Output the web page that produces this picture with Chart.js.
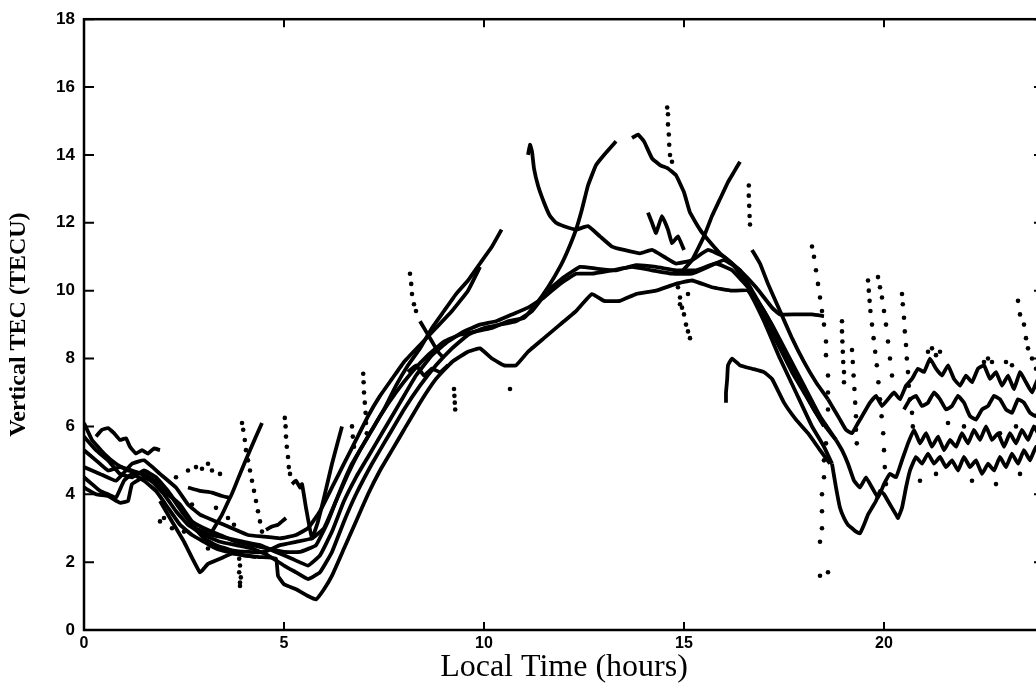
<!DOCTYPE html>
<html>
<head>
<meta charset="utf-8">
<title>Vertical TEC vs local time</title>
<script src="https://cdn.jsdelivr.net/npm/chart.js@4.4.1/dist/chart.umd.min.js"></script>
<style>
  html, body {
    margin: 0;
    padding: 0;
    background: #fff;
    overflow: hidden;
  }
  #wrap {
    width: 1036px;
    height: 692px;
    overflow: hidden;
  }
</style>
</head>
<body>
<div id="wrap"><canvas id="tec" width="1050" height="692"></canvas></div>
<script>
// tick labels
const hourTicks = [0, 5, 10, 15, 20];
const tecTicks = [0, 2, 4, 6, 8, 10, 12, 14, 16, 18];

// continuous traces, [local time (h), vertical TEC (TECU)]
const dayA = [[0,4.5],[0.2,4.3],[0.4,4.1],[0.6,4.0],[0.8,3.9],[1.0,4.4],[1.2,4.6],[1.5,4.4],[1.8,4.1],[2.1,3.6],[2.4,3.1],[2.7,2.8],[3.0,2.6],[3.3,2.4],[3.6,2.3],[4.0,2.2],[4.4,2.15],[4.8,2.1],[4.85,1.6],[5.0,1.35],[5.3,1.2],[5.6,1.0],[5.8,0.9],[6.0,1.2],[6.2,1.6],[6.5,2.4],[6.8,3.2],[7.1,4.0],[7.4,4.7],[7.7,5.3],[8.0,5.9],[8.4,6.7],[8.8,7.4],[9.2,7.9],[9.6,8.2],[9.9,8.3],[10.2,8.0],[10.5,7.8],[10.8,7.8],[11.1,8.2],[11.5,8.6],[11.9,9.0],[12.3,9.4],[12.7,9.9],[13.0,9.7],[13.4,9.7],[13.8,9.9],[14.3,10.0],[14.8,10.2],[15.2,10.3],[15.7,10.1],[16.2,10.0],[16.6,10.0],[17.0,9.1],[17.4,8.0],[17.8,7.0],[18.2,6.0],[18.5,5.4],[18.7,4.9]];
const dayB = [[0,5.3],[0.3,5.0],[0.6,4.7],[0.9,4.8],[1.2,4.7],[1.6,4.5],[2.0,4.0],[2.3,3.5],[2.6,3.1],[3.0,2.8],[3.4,2.6],[3.8,2.5],[4.2,2.4],[4.6,2.2],[5.0,1.9],[5.3,1.7],[5.6,1.5],[5.9,1.7],[6.2,2.3],[6.5,3.2],[6.8,4.0],[7.2,4.9],[7.6,5.7],[8.0,6.5],[8.4,7.2],[8.8,7.8],[9.2,8.3],[9.6,8.7],[10.0,8.9],[10.4,9.0],[10.8,9.1],[11.2,9.4],[11.6,10.0],[12.0,10.4],[12.4,10.7],[12.8,10.65],[13.3,10.6],[13.8,10.75],[14.3,10.7],[14.8,10.6],[15.3,10.6],[15.8,10.8],[16.2,10.6],[16.6,10.1],[17.0,9.4],[17.4,8.5],[17.8,7.5],[18.2,6.6],[18.5,6.0]];
const dayC = [[0,6.1],[0.2,5.6],[0.5,5.2],[0.8,4.9],[1.1,4.7],[1.5,4.6],[1.9,4.3],[2.2,3.9],[2.5,3.4],[2.8,3.0],[3.2,2.8],[3.6,2.7],[4.0,2.6],[4.4,2.5],[4.8,2.3],[5.2,2.1],[5.6,1.9],[5.9,2.2],[6.2,2.9],[6.5,3.8],[6.8,4.5],[7.1,5.1],[7.5,5.9],[7.9,6.7],[8.3,7.5],[8.7,8.1],[9.1,8.5],[9.5,8.8],[9.9,9.0],[10.3,9.1],[10.7,9.3],[11.1,9.5],[11.5,9.8],[11.9,10.2],[12.3,10.5],[12.7,10.5],[13.2,10.6],[13.7,10.7],[14.2,10.6],[14.7,10.5],[15.2,10.5],[15.6,10.7],[16.0,10.9],[16.4,10.6],[16.8,9.8],[17.2,9.0],[17.6,8.1],[18.0,7.2],[18.4,6.3],[18.8,5.6]];
const dayD = [[0,4.2],[0.3,4.0],[0.6,3.95],[0.9,3.75],[1.1,3.8],[1.2,4.3],[1.5,4.5],[1.8,4.3],[2.1,4.0],[2.4,3.7],[2.7,3.2],[3.0,3.0],[3.4,2.8],[3.8,2.6],[4.2,2.5],[4.6,2.4],[5.0,2.3],[5.4,2.3],[5.8,2.5],[6.1,3.2],[6.4,4.1],[6.7,4.9],[7.0,5.5],[7.4,6.3],[7.8,7.0],[8.2,7.6],[8.6,8.1],[9.0,8.5],[9.4,8.7],[9.8,8.8],[10.2,8.9],[10.6,9.1],[11.0,9.2],[11.3,9.6],[11.6,10.1],[11.9,10.7],[12.1,11.2],[12.3,11.8],[12.45,12.4],[12.6,13.1],[12.8,13.7],[13.0,14.0],[13.3,14.4]];
const dayE = [[0,5.7],[0.3,5.3],[0.6,5.0],[0.9,4.6],[1.2,4.5],[1.5,4.7],[1.8,4.5],[2.1,4.1],[2.4,3.6],[2.7,3.1],[3.0,2.7],[3.3,2.5],[3.7,2.35],[4.1,2.3],[4.5,2.3],[4.9,2.5],[5.3,2.6],[5.7,2.7],[6.0,3.0],[6.3,3.8],[6.6,4.6],[6.9,5.3],[7.2,5.9],[7.5,6.5],[7.8,7.2],[8.1,7.8],[8.4,8.3],[8.7,8.9],[9.0,9.4],[9.3,9.9],[9.6,10.3],[9.9,10.8],[10.2,11.3],[10.44,11.8]];
const dayF = [[0,4.8],[0.4,4.6],[0.8,4.4],[1.2,4.9],[1.5,5.0],[1.9,4.6],[2.3,4.2],[2.6,3.7],[2.9,3.4],[3.3,3.2],[3.7,3.0],[4.1,2.8],[4.5,2.75],[4.9,2.7],[5.3,2.8],[5.6,3.0],[5.9,3.5],[6.2,4.2],[6.5,4.9],[6.8,5.6],[7.1,6.3],[7.4,6.9],[7.7,7.4],[8.0,7.9],[8.4,8.4],[8.8,8.9],[9.2,9.4],[9.6,10.0],[9.9,10.7]];
const mornUpper = [[0.3,5.7],[0.45,5.9],[0.6,5.95],[0.75,5.8],[0.9,5.6],[1.05,5.65],[1.15,5.4],[1.3,5.2],[1.45,5.3],[1.6,5.2],[1.75,5.35],[1.9,5.3]];
const mornVee = [[1.9,3.8],[2.2,3.2],[2.5,2.6],[2.9,1.7],[3.1,1.95],[3.4,2.1],[3.7,2.25],[4.0,2.2],[4.3,2.15]];
const mornRise = [[2.6,4.2],[2.9,4.1],[3.2,4.05],[3.45,3.95],[3.65,3.9],[3.9,4.6],[4.15,5.3],[4.45,6.1]];
const mornStub = [[3.2,2.9],[3.45,3.4],[3.65,3.9]];
const dawnVee = [[5.2,4.3],[5.3,4.4],[5.4,4.2],[5.45,4.3],[5.55,3.6],[5.7,2.7],[5.85,3.2],[6.0,3.9],[6.2,4.9],[6.45,6.0]];
const dawnHook = [[4.55,2.95],[4.7,3.05],[4.85,3.1],[4.95,3.2],[5.05,3.3]];
const noonKnot = [[8.1,7.6],[8.3,7.8],[8.5,7.5],[8.7,7.7],[8.9,7.6],[9.1,7.8]];
const noonSpur = [[8.4,9.1],[8.55,8.8],[8.7,8.5],[8.85,8.2],[9.0,8.0]];
const aftK = [[11.1,14.0],[11.15,14.3],[11.2,14.1],[11.25,13.6],[11.35,13.1],[11.5,12.6],[11.65,12.2],[11.8,12.0],[12.0,11.9],[12.3,11.8],[12.6,11.9],[12.9,11.6],[13.2,11.3],[13.5,11.2],[13.9,11.1],[14.2,11.2],[14.5,11.0],[14.8,10.8],[15.2,10.9],[15.6,11.2],[16.0,11.0],[16.4,10.6],[16.8,10.1],[17.2,9.5],[17.4,9.3],[17.8,9.3],[18.2,9.3],[18.5,9.25]];
const aftL = [[13.7,14.5],[13.85,14.6],[14.0,14.4],[14.2,13.9],[14.4,13.7],[14.6,13.6],[14.8,13.4],[15.0,12.9],[15.15,12.3],[15.4,11.8],[15.6,11.5],[15.9,11.1],[16.2,10.8],[16.5,10.3],[16.8,9.7],[17.1,9.0],[17.4,8.3],[17.7,7.6],[18.0,7.0],[18.3,6.4],[18.6,5.9],[18.8,5.6]];
const aftM = [[14.9,10.5],[15.2,10.9],[15.5,11.6],[15.7,12.2],[15.9,12.7],[16.1,13.2],[16.25,13.5],[16.4,13.8]];
const aftKnot = [[14.1,12.3],[14.2,12.0],[14.3,11.7],[14.45,12.2],[14.6,11.8],[14.7,11.4],[14.85,11.6],[15.0,11.2]];
const aftR = [[16.7,11.2],[16.9,10.8],[17.1,10.2],[17.4,9.4],[17.7,8.6],[18.0,7.9],[18.3,7.3],[18.6,6.8]];
const aftN = [[16.05,6.7],[16.05,7.0],[16.08,7.4],[16.1,7.8],[16.2,8.0],[16.4,7.8],[16.7,7.7],[17.0,7.6],[17.2,7.4],[17.5,6.7],[17.8,6.2],[18.1,5.8],[18.4,5.3],[18.65,4.9]];
const eveLow = [[18.7,4.9],[18.8,4.2],[18.9,3.6],[19.0,3.3],[19.1,3.1],[19.2,3.0],[19.3,2.9],[19.4,2.85],[19.5,3.1],[19.6,3.4],[19.7,3.6],[19.8,3.8],[19.9,4.1],[20.0,4.0],[20.1,3.8],[20.2,3.6],[20.3,3.4],[20.35,3.3],[20.45,3.6],[20.55,4.2],[20.65,4.7],[20.8,5.1],[20.95,4.9],[21.1,5.2],[21.25,4.9],[21.4,5.1],[21.55,4.8],[21.7,5.0],[21.85,4.7],[22.0,5.1],[22.15,4.8],[22.3,5.0],[22.45,4.6],[22.6,4.9],[22.75,4.7],[22.9,5.1],[23.05,4.8],[23.2,5.2],[23.35,4.9],[23.5,5.3],[23.65,5.0],[23.8,5.4],[23.95,5.1],[24,5.2]];
const eveMid = [[18.8,5.6],[18.95,5.3],[19.1,4.9],[19.25,4.4],[19.4,4.2],[19.55,4.5],[19.7,4.2],[19.85,3.9],[20.0,4.3],[20.15,4.6],[20.3,4.5],[20.45,5.0],[20.6,5.5],[20.75,5.9],[20.9,5.5],[21.05,5.8],[21.2,5.4],[21.35,5.7],[21.5,5.3],[21.65,5.6],[21.8,5.4],[21.95,5.8],[22.1,5.5],[22.25,5.9],[22.4,5.6],[22.55,6.0],[22.7,5.6],[22.85,5.8],[23.0,5.4],[23.15,5.8],[23.3,5.5],[23.45,5.9],[23.6,5.6],[23.75,6.0],[23.9,5.7],[24.0,5.9]];
const eveHigh = [[18.6,6.8],[18.75,6.5],[18.9,6.2],[19.05,5.9],[19.2,5.8],[19.35,6.1],[19.5,6.4],[19.65,6.7],[19.8,6.9],[19.95,6.6],[20.1,6.8],[20.25,7.0],[20.4,6.8],[20.55,7.2],[20.7,7.4],[20.85,7.7],[21.0,7.6],[21.15,8.0],[21.3,7.7],[21.45,7.5],[21.6,7.8],[21.75,7.4],[21.9,7.2],[22.05,7.5],[22.2,7.3],[22.35,7.7],[22.5,7.8],[22.65,7.4],[22.8,7.6],[22.95,7.2],[23.1,7.5],[23.25,7.1],[23.4,7.6],[23.55,7.3],[23.7,7.0],[23.85,7.4],[24,7.2]];
const eveHigh2 = [[20.5,6.5],[20.65,6.8],[20.8,6.9],[20.95,6.6],[21.1,6.7],[21.25,7.0],[21.4,6.8],[21.55,6.5],[21.7,6.6],[21.85,6.9],[22.0,6.7],[22.15,6.3],[22.3,6.2],[22.45,6.5],[22.6,6.6],[22.75,6.9],[22.9,6.8],[23.05,6.5],[23.2,6.4],[23.35,6.8],[23.5,6.7],[23.65,6.4],[23.8,6.3],[23.95,6.6],[24,6.5]];

// sparse (dotted) samples
const dotsMorning = [[2.3,4.5],[2.6,4.7],[2.8,4.8],[2.95,4.75],[3.1,4.9],[3.2,4.7],[3.4,4.6],[2.0,3.3],[2.2,3.0],[1.9,3.2],[3.1,2.4],[2.5,2.9],[3.6,3.3],[3.75,3.1],[3.3,3.6],[2.7,3.7]];
const dotsFall1 = [[3.95,6.1],[3.98,5.9],[4.02,5.6],[4.05,5.3],[4.1,5.0],[4.15,4.7],[4.2,4.4],[4.25,4.1],[4.3,3.8],[4.35,3.5],[4.4,3.2],[4.45,2.9]];
const dotsFall2 = [[5.02,6.25],[5.04,6.0],[5.05,5.7],[5.07,5.4],[5.1,5.1],[5.12,4.8],[5.15,4.6]];
const dotsDip = [[3.88,2.1],[3.9,1.9],[3.88,1.7],[3.92,1.55],[3.9,1.4],[3.9,1.3]];
const dotsRise = [[6.98,7.55],[6.99,7.3],[7.0,7.0],[7.02,6.7],[7.04,6.4],[7.05,6.1],[7.07,5.8],[6.7,6.0],[6.72,5.7],[6.75,5.4]];
const dotsSpur = [[8.15,10.5],[8.18,10.2],[8.2,9.9],[8.25,9.6],[8.3,9.4],[9.25,7.1],[9.26,6.9],[9.27,6.7],[9.28,6.5],[10.65,7.1]];
const dotsPeak = [[14.58,15.4],[14.6,15.2],[14.6,14.9],[14.62,14.6],[14.63,14.3],[14.65,14.0],[14.7,13.8],[14.85,10.1],[14.9,9.8],[14.95,9.5],[15.0,9.3],[15.05,9.0],[15.1,8.8],[15.15,8.6],[14.9,9.6],[15.1,9.9]];
const dotsLate = [[16.62,13.1],[16.62,12.8],[16.63,12.5],[16.64,12.2],[16.65,11.95]];
const dotsDusk1 = [[18.2,11.3],[18.25,11.0],[18.3,10.6],[18.35,10.2],[18.4,9.8],[18.45,9.4],[18.5,9.0],[18.55,8.5],[18.55,8.1],[18.6,7.5],[18.6,7.0],[18.6,6.5],[18.55,6.0],[18.55,5.5],[18.5,5.0],[18.5,4.5],[18.45,4.0],[18.45,3.5],[18.45,3.0],[18.4,2.6],[18.4,1.6],[18.6,1.7]];
const dotsDusk2 = [[18.95,9.1],[18.95,8.8],[18.96,8.5],[18.97,8.2],[18.98,7.9],[19.0,7.6],[19.0,7.3],[19.2,8.25],[19.22,7.9],[19.24,7.5],[19.26,7.1],[19.28,6.7],[19.3,6.3],[19.3,5.9],[19.32,5.5]];
const dotsDusk3 = [[19.6,10.3],[19.62,10.0],[19.64,9.7],[19.66,9.4],[19.7,9.0],[19.74,8.6],[19.78,8.2],[19.82,7.8],[19.86,7.3],[19.9,6.8],[19.94,6.3],[19.98,5.8],[20.0,5.3],[20.02,4.8],[20.05,4.3]];
const dotsDusk4 = [[19.85,10.4],[19.9,10.1],[19.95,9.8],[20.0,9.4],[20.05,9.0],[20.1,8.5],[20.15,8.0],[20.2,7.5],[20.45,9.9],[20.47,9.6],[20.5,9.2],[20.52,8.8],[20.55,8.4],[20.57,8.0],[20.6,7.6],[20.62,7.2],[20.65,6.8],[20.7,6.4],[20.72,6.0]];
const dotsNight = [[21.1,8.2],[21.2,8.3],[21.3,8.1],[21.4,8.2],[22.5,7.9],[22.6,8.0],[22.7,7.9],[21.6,6.1],[22.0,6.0],[22.9,5.8],[23.3,6.0],[23.05,7.9],[23.2,7.8],[20.9,4.4],[21.3,4.6],[22.2,4.4],[22.8,4.3],[23.4,4.6]];
const dotsEdge = [[23.35,9.7],[23.4,9.3],[23.5,9.0],[23.55,8.6],[23.6,8.3],[23.7,8.0],[23.8,7.7],[23.9,7.4]];

const traces = [dayA, dayB, dayC, dayD, dayE, dayF, mornUpper, mornVee, mornRise, mornStub,
  dawnVee, dawnHook, noonKnot, noonSpur, aftK, aftL, aftM, aftKnot, aftR, aftN,
  eveLow, eveMid, eveHigh, eveHigh2];
const dotted = [dotsMorning, dotsFall1, dotsFall2, dotsDip, dotsRise, dotsSpur, dotsPeak,
  dotsLate, dotsDusk1, dotsDusk2, dotsDusk3, dotsDusk4, dotsNight, dotsEdge];

// inward tick marks on all four sides, plus the frame
const frameTicks = {
  id: "frameTicks",
  afterDraw(chart) {
    const { ctx, chartArea: a, scales } = chart;
    ctx.save();
    ctx.strokeStyle = "#000";
    ctx.lineWidth = 2.5;
    ctx.strokeRect(a.left, a.top, a.right - a.left, a.bottom - a.top);
    ctx.lineWidth = 2;
    ctx.beginPath();
    hourTicks.forEach((v) => {
      const px = scales.x.getPixelForValue(v);
      ctx.moveTo(px, a.bottom);
      ctx.lineTo(px, a.bottom - 8);
      ctx.moveTo(px, a.top);
      ctx.lineTo(px, a.top + 8);
    });
    tecTicks.forEach((v) => {
      const py = scales.y.getPixelForValue(v);
      ctx.moveTo(a.left, py);
      ctx.lineTo(a.left + 10, py);
      ctx.moveTo(a.right, py);
      ctx.lineTo(a.right - 10, py);
    });
    ctx.stroke();
    ctx.restore();
  },
};

const datasets = [];
traces.forEach((t) => {
  datasets.push({ data: t, showLine: true, borderColor: "#000", borderWidth: 3.8, pointRadius: 0, tension: 0.1 });
});
dotted.forEach((t) => {
  datasets.push({ data: t, showLine: false, backgroundColor: "#000", borderWidth: 0, pointRadius: 2.3 });
});

new Chart(document.getElementById("tec"), {
  type: "scatter",
  data: { datasets },
  options: {
    responsive: false,
    animation: false,
    layout: { padding: { top: 19, right: 6, left: 0, bottom: 0 } },
    plugins: { legend: { display: false }, tooltip: { enabled: false } },
    scales: {
      x: {
        min: 0,
        max: 24,
        afterFit: (s) => { s.height = 62; },
        afterBuildTicks: (s) => { s.ticks = hourTicks.map((v) => ({ value: v })); },
        grid: { display: false, drawTicks: false },
        border: { display: false },
        ticks: { color: "#000", padding: 4, font: { family: "Liberation Sans", size: 16, weight: "bold" } },
        title: {
          display: true,
          text: "Local Time (hours)",
          color: "#000",
          padding: { top: 0, bottom: 5 },
          font: { family: "Liberation Serif", size: 32 },
        },
      },
      y: {
        min: 0,
        max: 18,
        afterFit: (s) => { s.width = 84; },
        afterBuildTicks: (s) => { s.ticks = tecTicks.map((v) => ({ value: v })); },
        grid: { display: false, drawTicks: false },
        border: { display: false },
        ticks: { color: "#000", padding: 9, font: { family: "Liberation Sans", size: 17, weight: "bold" } },
        title: {
          display: true,
          text: "Vertical TEC (TECU)",
          color: "#000",
          padding: { top: 4, bottom: 0 },
          font: { family: "Liberation Serif", size: 24, weight: "bold" },
        },
      },
    },
  },
  plugins: [frameTicks],
});
</script>
</body>
</html>
